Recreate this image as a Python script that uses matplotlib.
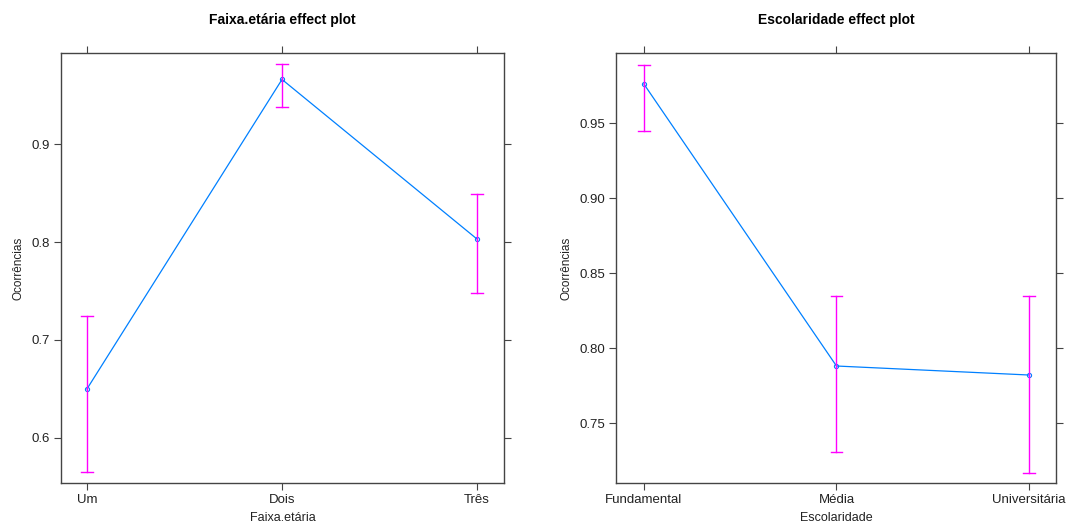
import matplotlib
matplotlib.use('Agg')
import matplotlib.pyplot as plt

plt.rcParams['font.family'] = ['Liberation Sans', 'DejaVu Sans']

# Faixa.etária panel
faixa_cats = ["Um", "Dois", "Três"]
faixa_fit = [0.650, 0.966, 0.803]
faixa_lo = [0.565, 0.938, 0.748]
faixa_hi = [0.725, 0.982, 0.849]
faixa_yticks = [0.6, 0.7, 0.8, 0.9]
faixa_yticklabels = ["0.6", "0.7", "0.8", "0.9"]

# Escolaridade panel
esc_cats = ["Fundamental", "Média", "Universitária"]
esc_fit = [0.976, 0.788, 0.782]
esc_lo = [0.945, 0.731, 0.717]
esc_hi = [0.989, 0.835, 0.835]
esc_yticks = [0.75, 0.80, 0.85, 0.90, 0.95]
esc_yticklabels = ["0.75", "0.80", "0.85", "0.90", "0.95"]

LINE = "#0080ff"
ERR = "#ff00ff"
FRAME = "#444444"


def effect_panel(ax, cats, fit, lo, hi, yticks, yticklabels, ylim, xlim,
                 title, xlabel):
    x = list(range(1, len(cats) + 1))
    ax.plot(x, fit, "-o", color=LINE, linewidth=0.9, markersize=3,
            markerfacecolor="none", markeredgewidth=0.8)
    for xi, l, h in zip(x, lo, hi):
        ax.plot([xi, xi], [l, h], color=ERR, linewidth=1.0)
        ax.plot([xi - 0.03, xi + 0.03], [l, l], color=ERR, linewidth=1.0)
        ax.plot([xi - 0.03, xi + 0.03], [h, h], color=ERR, linewidth=1.0)
    ax.set_xlim(*xlim)
    ax.set_ylim(*ylim)
    ax.set_xticks(x)
    ax.set_xticklabels(cats)
    ax.set_yticks(yticks)
    ax.set_yticklabels(yticklabels)
    ax.tick_params(direction="out", length=5, width=0.8, colors=FRAME,
                   labelcolor="#222222", labelsize=9.5, top=True, right=True,
                   pad=3)
    for s in ax.spines.values():
        s.set_color(FRAME)
        s.set_linewidth(1.0)
    ax.set_title(title, fontsize=10, fontweight="bold", pad=21)
    ax.set_xlabel(xlabel, fontsize=9, color="#222222", labelpad=4)
    ax.set_ylabel("Ocorrências", fontsize=8.5, color="#222222", labelpad=5)


fig = plt.figure(figsize=(10.76, 5.28), dpi=100)
ax1 = fig.add_axes([61 / 1076, 1 - 483 / 528, 443 / 1076, 430 / 528])
ax2 = fig.add_axes([616 / 1076, 1 - 483 / 528, 440 / 1076, 430 / 528])

effect_panel(ax1, faixa_cats, faixa_fit, faixa_lo, faixa_hi,
             faixa_yticks, faixa_yticklabels, (0.554, 0.993), (0.867, 3.138),
             "Faixa.etária effect plot", "Faixa.etária")
effect_panel(ax2, esc_cats, esc_fit, esc_lo, esc_hi,
             esc_yticks, esc_yticklabels, (0.71, 0.9967), (0.855, 3.14),
             "Escolaridade effect plot", "Escolaridade")

fig.savefig("out.png", dpi=100)
